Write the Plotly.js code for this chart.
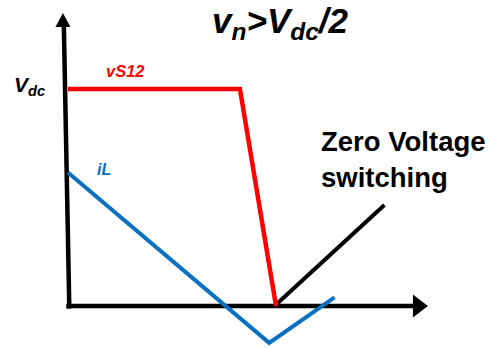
<!DOCTYPE html>
<html>
<head>
<meta charset="utf-8">
<script src="https://cdn.plot.ly/plotly-3.0.1.min.js"></script>
<style>
  html, body { margin: 0; padding: 0; background: #ffffff; }
  #chart { width: 495px; height: 348px; }
</style>
</head>
<body>
<div id="chart"></div>
<script>
// Switch voltage v_S12, normalised to Vdc, over one switching interval
const tSwitch = [0, 1.0, 1.21];
const vSwitch = [1, 1, 0];

// Inductor current i_L (normalised)
const tCurrent = [0, 1.17, 1.55];
const iCurrent = [0.615, -0.17, 0.04];

// Pointer to the zero-voltage switching instant
const tPointer = [1.22, 1.84];
const vPointer = [0.014, 0.465];

// Extent of the drawn time / amplitude axes
const tAxisEnd = 2.093;
const vAxisEnd = 1.35;

const FONT = "Arial, 'Liberation Sans', sans-serif";
const RED = "#ff0000";
const BLUE = "#0a70c0";

const traces = [
  { x: tCurrent, y: iCurrent, mode: "lines", line: { color: BLUE, width: 4 }, hoverinfo: "skip" },
  { x: tPointer, y: vPointer, mode: "lines", line: { color: "#000000", width: 4 }, hoverinfo: "skip" },
  { x: tSwitch, y: vSwitch, mode: "lines", line: { color: RED, width: 4.5 }, hoverinfo: "skip" }
];

const hidden = { visible: false, showgrid: false, zeroline: false, fixedrange: true };

const layout = {
  width: 495,
  height: 348,
  margin: { l: 0, r: 0, t: 0, b: 0 },
  paper_bgcolor: "#ffffff",
  plot_bgcolor: "#ffffff",
  showlegend: false,
  xaxis: Object.assign({ range: [-0.395, 2.483] }, hidden),
  yaxis: Object.assign({ range: [-0.1935, 1.410] }, hidden),
  shapes: [
    // time axis
    { type: "line", layer: "below", x0: -0.01, y0: 0, x1: tAxisEnd - 0.06, y1: 0,
      line: { color: "#000000", width: 4.5 } },
    // amplitude axis
    { type: "line", layer: "below", x0: 0.008, y0: -0.012, x1: -0.024, y1: vAxisEnd - 0.05,
      line: { color: "#000000", width: 4.5 } },
    // arrow heads
    { type: "path", layer: "below", xsizemode: "pixel", ysizemode: "pixel",
      xanchor: tAxisEnd, yanchor: 0,
      path: "M0,0 L-15,11.5 L-15,-11.5 Z", fillcolor: "#000000", line: { width: 0 } },
    { type: "path", layer: "below", xsizemode: "pixel", ysizemode: "pixel",
      xanchor: -0.029, yanchor: vAxisEnd,
      path: "M0,0 L7.5,-14 L-7.5,-14 Z", fillcolor: "#000000", line: { width: 0 } }
  ],
  annotations: [
    { x: 1.235, y: 1.305, xref: "x", yref: "y", showarrow: false, xanchor: "center", yanchor: "middle",
      text: "<b><i>v<sub>n</sub>&gt;V<sub>dc</sub>/2</i></b>",
      font: { family: FONT, size: 35, color: "#000000" } },
    { x: -0.222, y: 1.015, xref: "x", yref: "y", showarrow: false, xanchor: "center", yanchor: "middle",
      text: "<b><i>V<sub>dc</sub></i></b>",
      font: { family: FONT, size: 21, color: "#000000" } },
    { x: 0.337, y: 1.083, xref: "x", yref: "y", showarrow: false, xanchor: "center", yanchor: "middle",
      text: "<b><i>vS12</i></b>",
      font: { family: FONT, size: 16.5, color: RED } },
    { x: 0.209, y: 0.627, xref: "x", yref: "y", showarrow: false, xanchor: "center", yanchor: "middle",
      text: "<b><i>iL</i></b>",
      font: { family: FONT, size: 16, color: BLUE } },
    { x: 1.462, y: 0.838, xref: "x", yref: "y", showarrow: false, xanchor: "left", yanchor: "top",
      align: "left",
      text: "<b>Zero Voltage<br>switching</b>",
      font: { family: FONT, size: 27.5, color: "#000000" } }
  ]
};

Plotly.newPlot("chart", traces, layout, { staticPlot: true, displayModeBar: false });
</script>
</body>
</html>
